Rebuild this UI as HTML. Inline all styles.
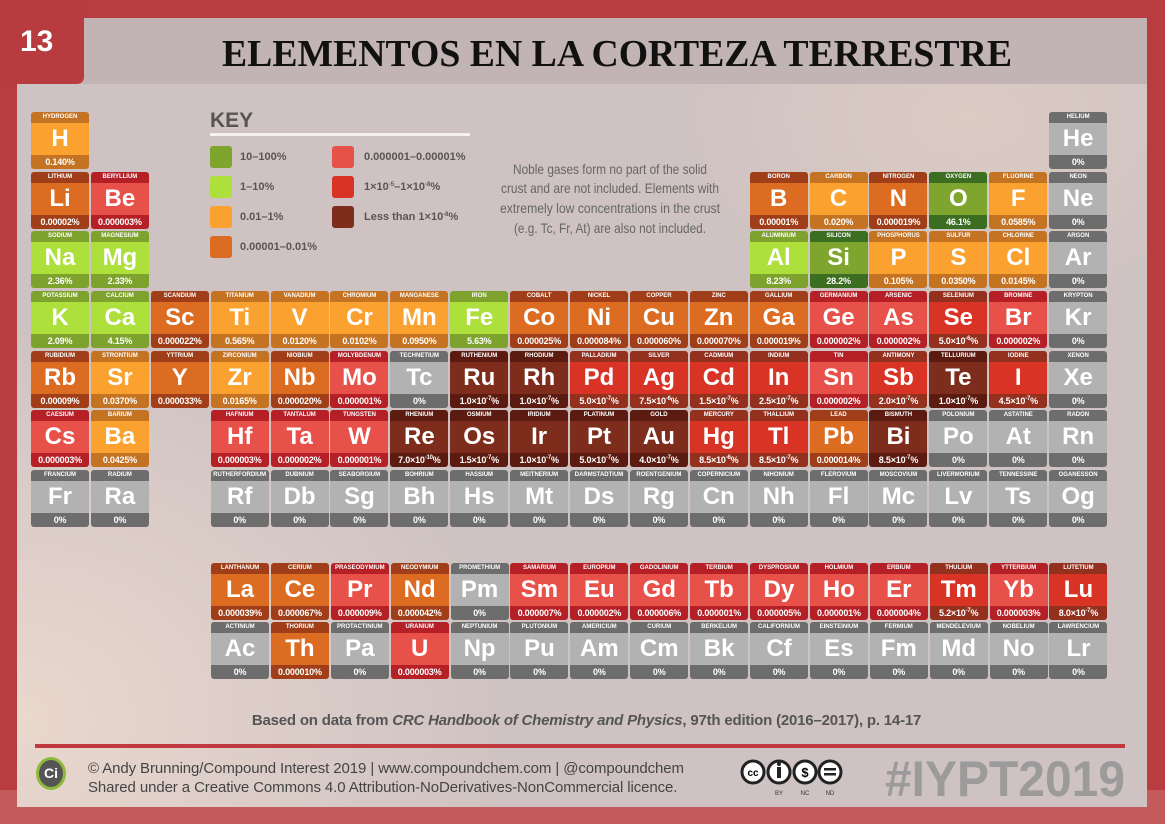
<!DOCTYPE html>
<html><head><meta charset="utf-8"><style>
*{margin:0;padding:0;box-sizing:border-box}
body{width:1165px;height:824px;overflow:hidden;background:#b93d40;position:relative;font-family:"Liberation Sans",sans-serif}
#bot{position:absolute;left:0;top:790px;width:1165px;height:34px;background:#c35a5b}
#panel{position:absolute;left:17px;top:18px;width:1130px;height:789px;background:radial-gradient(ellipse 500px 400px at 0px 700px,#ead8cd 0%,rgba(230,215,205,0) 100%),radial-gradient(ellipse 300px 200px at 950px 100px,#dccbc3 0%,rgba(220,200,195,0) 100%),#cec2c2}
#tband{position:absolute;left:17px;top:18px;width:1130px;height:66px;background:#c2b4b4}
#tab{position:absolute;left:0;top:0;width:84px;height:84px;background:#b83c3f;border-bottom-right-radius:7px;color:#fff;font:bold 30px "Liberation Sans",sans-serif;padding:25px 0 0 20px}
.g{display:grid;position:absolute;grid-template-columns:repeat(18,58px);column-gap:1.9px;grid-auto-rows:57px;row-gap:2.7px}
.c{border-radius:3px;overflow:hidden;display:flex;flex-direction:column;color:#fff;text-align:center}
.c i{font-style:normal;font-weight:bold;font-size:6px;height:11px;line-height:11px;white-space:nowrap;overflow:hidden}
.c b{font-size:24px;height:32px;line-height:32px}
.c u{text-decoration:none;font-weight:bold;font-size:9px;height:14px;line-height:14px;white-space:nowrap;letter-spacing:-0.2px}
.o b{background:#fba12f}.o i,.o u{background:#c47322}
.d b{background:#dd6c23}.d i,.d u{background:#9f3e18}
.l b{background:#ade03a}.l i,.l u{background:#7ea22e}
.gg b{background:#7ea62e}.gg i,.gg u{background:#3c6e22}
.r b{background:#e8514a}.r i,.r u{background:#b52027}
.R b{background:#d93326}.R i,.R u{background:#93301e}
.b b{background:#7e2d1d}.b i,.b u{background:#5b1b10}
.x b{background:#b2b2b2}.x i,.x u{background:#6d6d6d}
.k{position:absolute;width:22px;height:22px;border-radius:3px}
.kt{position:absolute;font-size:11px;font-weight:bold;color:#5a5555}
sup{font-size:6px;line-height:0;vertical-align:4px}
</style></head><body>
<div id="bot"></div>
<div id="panel"></div>
<div id="tband"></div>
<div id="tab">13</div>
<svg style="position:absolute;left:0;top:0" width="1165" height="90"><text x="222" y="66" textLength="790" lengthAdjust="spacingAndGlyphs" font-family="Liberation Serif,serif" font-weight="bold" font-size="38" fill="#111">ELEMENTOS EN LA CORTEZA TERRESTRE</text></svg>

<div style="position:absolute;left:210px;top:109px;font:bold 21px 'Liberation Sans',sans-serif;color:#555">KEY</div>
<div style="position:absolute;left:210px;top:133px;width:260px;height:3px;background:#f4f0f0"></div>
<div class="k" style="left:210px;top:146px;background:#7ea62e"></div><div class="kt" style="left:240px;top:151px">10–100%</div>
<div class="k" style="left:210px;top:176px;background:#ade03a"></div><div class="kt" style="left:240px;top:181px">1–10%</div>
<div class="k" style="left:210px;top:206px;background:#fba12f"></div><div class="kt" style="left:240px;top:211px">0.01–1%</div>
<div class="k" style="left:210px;top:236px;background:#dd6c23"></div><div class="kt" style="left:240px;top:241px">0.00001–0.01%</div>
<div class="k" style="left:332px;top:146px;background:#e8514a"></div><div class="kt" style="left:364px;top:151px">0.000001–0.00001%</div>
<div class="k" style="left:332px;top:176px;background:#d93326"></div><div class="kt" style="left:364px;top:181px">1×10<sup>-5</sup>–1×10<sup>-8</sup>%</div>
<div class="k" style="left:332px;top:206px;background:#7e2d1d"></div><div class="kt" style="left:364px;top:211px">Less than 1×10<sup>-8</sup>%</div>
<svg style="position:absolute;left:480px;top:150px" width="260" height="100" font-family="Liberation Sans,sans-serif" font-size="14" fill="#666" text-anchor="middle">
<text x="130" y="24" textLength="194" lengthAdjust="spacingAndGlyphs">Noble gases form no part of the solid</text>
<text x="130" y="43" textLength="218" lengthAdjust="spacingAndGlyphs">crust and are not included. Elements with</text>
<text x="130" y="63" textLength="220" lengthAdjust="spacingAndGlyphs">extremely low concentrations in the crust</text>
<text x="130" y="83" textLength="192" lengthAdjust="spacingAndGlyphs">(e.g. Tc, Fr, At) are also not included.</text>
</svg>

<div class="g" style="left:31px;top:112px">
<div class="c o" style="grid-area:1/1"><i>HYDROGEN</i><b>H</b><u>0.140%</u></div>
<div class="c x" style="grid-area:1/18"><i>HELIUM</i><b>He</b><u>0%</u></div>
<div class="c d" style="grid-area:2/1"><i>LITHIUM</i><b>Li</b><u>0.00002%</u></div>
<div class="c r" style="grid-area:2/2"><i>BERYLLIUM</i><b>Be</b><u>0.000003%</u></div>
<div class="c d" style="grid-area:2/13"><i>BORON</i><b>B</b><u>0.00001%</u></div>
<div class="c o" style="grid-area:2/14"><i>CARBON</i><b>C</b><u>0.020%</u></div>
<div class="c d" style="grid-area:2/15"><i>NITROGEN</i><b>N</b><u>0.000019%</u></div>
<div class="c gg" style="grid-area:2/16"><i>OXYGEN</i><b>O</b><u>46.1%</u></div>
<div class="c o" style="grid-area:2/17"><i>FLUORINE</i><b>F</b><u>0.0585%</u></div>
<div class="c x" style="grid-area:2/18"><i>NEON</i><b>Ne</b><u>0%</u></div>
<div class="c l" style="grid-area:3/1"><i>SODIUM</i><b>Na</b><u>2.36%</u></div>
<div class="c l" style="grid-area:3/2"><i>MAGNESIUM</i><b>Mg</b><u>2.33%</u></div>
<div class="c l" style="grid-area:3/13"><i>ALUMINIUM</i><b>Al</b><u>8.23%</u></div>
<div class="c gg" style="grid-area:3/14"><i>SILICON</i><b>Si</b><u>28.2%</u></div>
<div class="c o" style="grid-area:3/15"><i>PHOSPHORUS</i><b>P</b><u>0.105%</u></div>
<div class="c o" style="grid-area:3/16"><i>SULFUR</i><b>S</b><u>0.0350%</u></div>
<div class="c o" style="grid-area:3/17"><i>CHLORINE</i><b>Cl</b><u>0.0145%</u></div>
<div class="c x" style="grid-area:3/18"><i>ARGON</i><b>Ar</b><u>0%</u></div>
<div class="c l" style="grid-area:4/1"><i>POTASSIUM</i><b>K</b><u>2.09%</u></div>
<div class="c l" style="grid-area:4/2"><i>CALCIUM</i><b>Ca</b><u>4.15%</u></div>
<div class="c d" style="grid-area:4/3"><i>SCANDIUM</i><b>Sc</b><u>0.000022%</u></div>
<div class="c o" style="grid-area:4/4"><i>TITANIUM</i><b>Ti</b><u>0.565%</u></div>
<div class="c o" style="grid-area:4/5"><i>VANADIUM</i><b>V</b><u>0.0120%</u></div>
<div class="c o" style="grid-area:4/6"><i>CHROMIUM</i><b>Cr</b><u>0.0102%</u></div>
<div class="c o" style="grid-area:4/7"><i>MANGANESE</i><b>Mn</b><u>0.0950%</u></div>
<div class="c l" style="grid-area:4/8"><i>IRON</i><b>Fe</b><u>5.63%</u></div>
<div class="c d" style="grid-area:4/9"><i>COBALT</i><b>Co</b><u>0.000025%</u></div>
<div class="c d" style="grid-area:4/10"><i>NICKEL</i><b>Ni</b><u>0.000084%</u></div>
<div class="c d" style="grid-area:4/11"><i>COPPER</i><b>Cu</b><u>0.000060%</u></div>
<div class="c d" style="grid-area:4/12"><i>ZINC</i><b>Zn</b><u>0.000070%</u></div>
<div class="c d" style="grid-area:4/13"><i>GALLIUM</i><b>Ga</b><u>0.000019%</u></div>
<div class="c r" style="grid-area:4/14"><i>GERMANIUM</i><b>Ge</b><u>0.000002%</u></div>
<div class="c r" style="grid-area:4/15"><i>ARSENIC</i><b>As</b><u>0.000002%</u></div>
<div class="c R" style="grid-area:4/16"><i>SELENIUM</i><b>Se</b><u>5.0×10<sup>-6</sup>%</u></div>
<div class="c r" style="grid-area:4/17"><i>BROMINE</i><b>Br</b><u>0.000002%</u></div>
<div class="c x" style="grid-area:4/18"><i>KRYPTON</i><b>Kr</b><u>0%</u></div>
<div class="c d" style="grid-area:5/1"><i>RUBIDIUM</i><b>Rb</b><u>0.00009%</u></div>
<div class="c o" style="grid-area:5/2"><i>STRONTIUM</i><b>Sr</b><u>0.0370%</u></div>
<div class="c d" style="grid-area:5/3"><i>YTTRIUM</i><b>Y</b><u>0.000033%</u></div>
<div class="c o" style="grid-area:5/4"><i>ZIRCONIUM</i><b>Zr</b><u>0.0165%</u></div>
<div class="c d" style="grid-area:5/5"><i>NIOBIUM</i><b>Nb</b><u>0.000020%</u></div>
<div class="c r" style="grid-area:5/6"><i>MOLYBDENUM</i><b>Mo</b><u>0.000001%</u></div>
<div class="c x" style="grid-area:5/7"><i>TECHNETIUM</i><b>Tc</b><u>0%</u></div>
<div class="c b" style="grid-area:5/8"><i>RUTHENIUM</i><b>Ru</b><u>1.0×10<sup>-7</sup>%</u></div>
<div class="c b" style="grid-area:5/9"><i>RHODIUM</i><b>Rh</b><u>1.0×10<sup>-7</sup>%</u></div>
<div class="c R" style="grid-area:5/10"><i>PALLADIUM</i><b>Pd</b><u>5.0×10<sup>-7</sup>%</u></div>
<div class="c R" style="grid-area:5/11"><i>SILVER</i><b>Ag</b><u>7.5×10<sup>-6</sup>%</u></div>
<div class="c R" style="grid-area:5/12"><i>CADMIUM</i><b>Cd</b><u>1.5×10<sup>-7</sup>%</u></div>
<div class="c R" style="grid-area:5/13"><i>INDIUM</i><b>In</b><u>2.5×10<sup>-7</sup>%</u></div>
<div class="c r" style="grid-area:5/14"><i>TIN</i><b>Sn</b><u>0.000002%</u></div>
<div class="c R" style="grid-area:5/15"><i>ANTIMONY</i><b>Sb</b><u>2.0×10<sup>-7</sup>%</u></div>
<div class="c b" style="grid-area:5/16"><i>TELLURIUM</i><b>Te</b><u>1.0×10<sup>-7</sup>%</u></div>
<div class="c R" style="grid-area:5/17"><i>IODINE</i><b>I</b><u>4.5×10<sup>-7</sup>%</u></div>
<div class="c x" style="grid-area:5/18"><i>XENON</i><b>Xe</b><u>0%</u></div>
<div class="c r" style="grid-area:6/1"><i>CAESIUM</i><b>Cs</b><u>0.000003%</u></div>
<div class="c o" style="grid-area:6/2"><i>BARIUM</i><b>Ba</b><u>0.0425%</u></div>
<div class="c r" style="grid-area:6/4"><i>HAFNIUM</i><b>Hf</b><u>0.000003%</u></div>
<div class="c r" style="grid-area:6/5"><i>TANTALUM</i><b>Ta</b><u>0.000002%</u></div>
<div class="c r" style="grid-area:6/6"><i>TUNGSTEN</i><b>W</b><u>0.000001%</u></div>
<div class="c b" style="grid-area:6/7"><i>RHENIUM</i><b>Re</b><u>7.0×10<sup>-10</sup>%</u></div>
<div class="c b" style="grid-area:6/8"><i>OSMIUM</i><b>Os</b><u>1.5×10<sup>-7</sup>%</u></div>
<div class="c b" style="grid-area:6/9"><i>IRIDIUM</i><b>Ir</b><u>1.0×10<sup>-7</sup>%</u></div>
<div class="c b" style="grid-area:6/10"><i>PLATINUM</i><b>Pt</b><u>5.0×10<sup>-7</sup>%</u></div>
<div class="c b" style="grid-area:6/11"><i>GOLD</i><b>Au</b><u>4.0×10<sup>-7</sup>%</u></div>
<div class="c R" style="grid-area:6/12"><i>MERCURY</i><b>Hg</b><u>8.5×10<sup>-6</sup>%</u></div>
<div class="c R" style="grid-area:6/13"><i>THALLIUM</i><b>Tl</b><u>8.5×10<sup>-7</sup>%</u></div>
<div class="c d" style="grid-area:6/14"><i>LEAD</i><b>Pb</b><u>0.000014%</u></div>
<div class="c b" style="grid-area:6/15"><i>BISMUTH</i><b>Bi</b><u>8.5×10<sup>-7</sup>%</u></div>
<div class="c x" style="grid-area:6/16"><i>POLONIUM</i><b>Po</b><u>0%</u></div>
<div class="c x" style="grid-area:6/17"><i>ASTATINE</i><b>At</b><u>0%</u></div>
<div class="c x" style="grid-area:6/18"><i>RADON</i><b>Rn</b><u>0%</u></div>
<div class="c x" style="grid-area:7/1"><i>FRANCIUM</i><b>Fr</b><u>0%</u></div>
<div class="c x" style="grid-area:7/2"><i>RADIUM</i><b>Ra</b><u>0%</u></div>
<div class="c x" style="grid-area:7/4"><i>RUTHERFORDIUM</i><b>Rf</b><u>0%</u></div>
<div class="c x" style="grid-area:7/5"><i>DUBNIUM</i><b>Db</b><u>0%</u></div>
<div class="c x" style="grid-area:7/6"><i>SEABORGIUM</i><b>Sg</b><u>0%</u></div>
<div class="c x" style="grid-area:7/7"><i>BOHRIUM</i><b>Bh</b><u>0%</u></div>
<div class="c x" style="grid-area:7/8"><i>HASSIUM</i><b>Hs</b><u>0%</u></div>
<div class="c x" style="grid-area:7/9"><i>MEITNERIUM</i><b>Mt</b><u>0%</u></div>
<div class="c x" style="grid-area:7/10"><i>DARMSTADTIUM</i><b>Ds</b><u>0%</u></div>
<div class="c x" style="grid-area:7/11"><i>ROENTGENIUM</i><b>Rg</b><u>0%</u></div>
<div class="c x" style="grid-area:7/12"><i>COPERNICIUM</i><b>Cn</b><u>0%</u></div>
<div class="c x" style="grid-area:7/13"><i>NIHONIUM</i><b>Nh</b><u>0%</u></div>
<div class="c x" style="grid-area:7/14"><i>FLEROVIUM</i><b>Fl</b><u>0%</u></div>
<div class="c x" style="grid-area:7/15"><i>MOSCOVIUM</i><b>Mc</b><u>0%</u></div>
<div class="c x" style="grid-area:7/16"><i>LIVERMORIUM</i><b>Lv</b><u>0%</u></div>
<div class="c x" style="grid-area:7/17"><i>TENNESSINE</i><b>Ts</b><u>0%</u></div>
<div class="c x" style="grid-area:7/18"><i>OGANESSON</i><b>Og</b><u>0%</u></div>
</div>

<div class="g" style="left:211px;top:563px;row-gap:2px">
<div class="c d" style="grid-area:1/1"><i>LANTHANUM</i><b>La</b><u>0.000039%</u></div>
<div class="c d" style="grid-area:1/2"><i>CERIUM</i><b>Ce</b><u>0.000067%</u></div>
<div class="c r" style="grid-area:1/3"><i>PRASEODYMIUM</i><b>Pr</b><u>0.000009%</u></div>
<div class="c d" style="grid-area:1/4"><i>NEODYMIUM</i><b>Nd</b><u>0.000042%</u></div>
<div class="c x" style="grid-area:1/5"><i>PROMETHIUM</i><b>Pm</b><u>0%</u></div>
<div class="c r" style="grid-area:1/6"><i>SAMARIUM</i><b>Sm</b><u>0.000007%</u></div>
<div class="c r" style="grid-area:1/7"><i>EUROPIUM</i><b>Eu</b><u>0.000002%</u></div>
<div class="c r" style="grid-area:1/8"><i>GADOLINIUM</i><b>Gd</b><u>0.000006%</u></div>
<div class="c r" style="grid-area:1/9"><i>TERBIUM</i><b>Tb</b><u>0.000001%</u></div>
<div class="c r" style="grid-area:1/10"><i>DYSPROSIUM</i><b>Dy</b><u>0.000005%</u></div>
<div class="c r" style="grid-area:1/11"><i>HOLMIUM</i><b>Ho</b><u>0.000001%</u></div>
<div class="c r" style="grid-area:1/12"><i>ERBIUM</i><b>Er</b><u>0.000004%</u></div>
<div class="c R" style="grid-area:1/13"><i>THULIUM</i><b>Tm</b><u>5.2×10<sup>-7</sup>%</u></div>
<div class="c r" style="grid-area:1/14"><i>YTTERBIUM</i><b>Yb</b><u>0.000003%</u></div>
<div class="c R" style="grid-area:1/15"><i>LUTETIUM</i><b>Lu</b><u>8.0×10<sup>-7</sup>%</u></div>
<div class="c x" style="grid-area:2/1"><i>ACTINIUM</i><b>Ac</b><u>0%</u></div>
<div class="c d" style="grid-area:2/2"><i>THORIUM</i><b>Th</b><u>0.000010%</u></div>
<div class="c x" style="grid-area:2/3"><i>PROTACTINIUM</i><b>Pa</b><u>0%</u></div>
<div class="c r" style="grid-area:2/4"><i>URANIUM</i><b>U</b><u>0.000003%</u></div>
<div class="c x" style="grid-area:2/5"><i>NEPTUNIUM</i><b>Np</b><u>0%</u></div>
<div class="c x" style="grid-area:2/6"><i>PLUTONIUM</i><b>Pu</b><u>0%</u></div>
<div class="c x" style="grid-area:2/7"><i>AMERICIUM</i><b>Am</b><u>0%</u></div>
<div class="c x" style="grid-area:2/8"><i>CURIUM</i><b>Cm</b><u>0%</u></div>
<div class="c x" style="grid-area:2/9"><i>BERKELIUM</i><b>Bk</b><u>0%</u></div>
<div class="c x" style="grid-area:2/10"><i>CALIFORNIUM</i><b>Cf</b><u>0%</u></div>
<div class="c x" style="grid-area:2/11"><i>EINSTEINIUM</i><b>Es</b><u>0%</u></div>
<div class="c x" style="grid-area:2/12"><i>FERMIUM</i><b>Fm</b><u>0%</u></div>
<div class="c x" style="grid-area:2/13"><i>MENDELEVIUM</i><b>Md</b><u>0%</u></div>
<div class="c x" style="grid-area:2/14"><i>NOBELIUM</i><b>No</b><u>0%</u></div>
<div class="c x" style="grid-area:2/15"><i>LAWRENCIUM</i><b>Lr</b><u>0%</u></div>
</div>

<div style="position:absolute;left:0;width:1165px;top:712px;text-align:center;font-size:15px;font-weight:bold;color:#555;padding-left:8px;letter-spacing:-0.2px">Based on data from <em>CRC Handbook of Chemistry and Physics</em>, 97th edition (2016–2017), p. 14-17</div>
<div style="position:absolute;left:35px;top:744px;width:1090px;height:4px;background:#c0393e"></div>
<div style="position:absolute;left:36px;top:757px;width:30px;height:33px;border-radius:50%;border:3px solid #8cba3a;background:#555;color:#fff;font:bold 14px 'Liberation Sans',sans-serif;text-align:center;line-height:27px">Ci</div>
<div style="position:absolute;left:88px;top:759px;font-size:15px;line-height:19px;color:#444;letter-spacing:-0.1px">© Andy Brunning/Compound Interest 2019 | www.compoundchem.com | @compoundchem<br>Shared under a Creative Commons 4.0 Attribution-NoDerivatives-NonCommercial licence.</div>
<svg style="position:absolute;left:738px;top:758px" width="120" height="42">
<g fill="#fff" stroke="#222" stroke-width="3"><circle cx="15" cy="14" r="11"/><circle cx="41" cy="14" r="11"/><circle cx="67" cy="14" r="11"/><circle cx="92" cy="14" r="11"/></g>
<text x="15" y="18" text-anchor="middle" font-size="10" font-weight="bold" font-family="Liberation Sans">cc</text>
<rect x="39" y="9" width="4" height="11" fill="#222"/><circle cx="41" cy="6" r="2" fill="#222"/>
<text x="67" y="19" text-anchor="middle" font-size="13" font-weight="bold" font-family="Liberation Sans">$</text>
<rect x="86" y="10" width="12" height="2.5" fill="#222"/><rect x="86" y="15" width="12" height="2.5" fill="#222"/>
<g font-size="6" font-family="Liberation Sans" fill="#333" text-anchor="middle"><text x="41" y="37">BY</text><text x="67" y="37">NC</text><text x="92" y="37">ND</text></g>
</svg>
<svg style="position:absolute;left:880px;top:745px" width="250" height="60"><text x="5" y="51" textLength="240" lengthAdjust="spacingAndGlyphs" font-family="Liberation Sans,sans-serif" font-weight="bold" font-size="50" fill="#9c9a9a">#IYPT2019</text></svg>
</body></html>
